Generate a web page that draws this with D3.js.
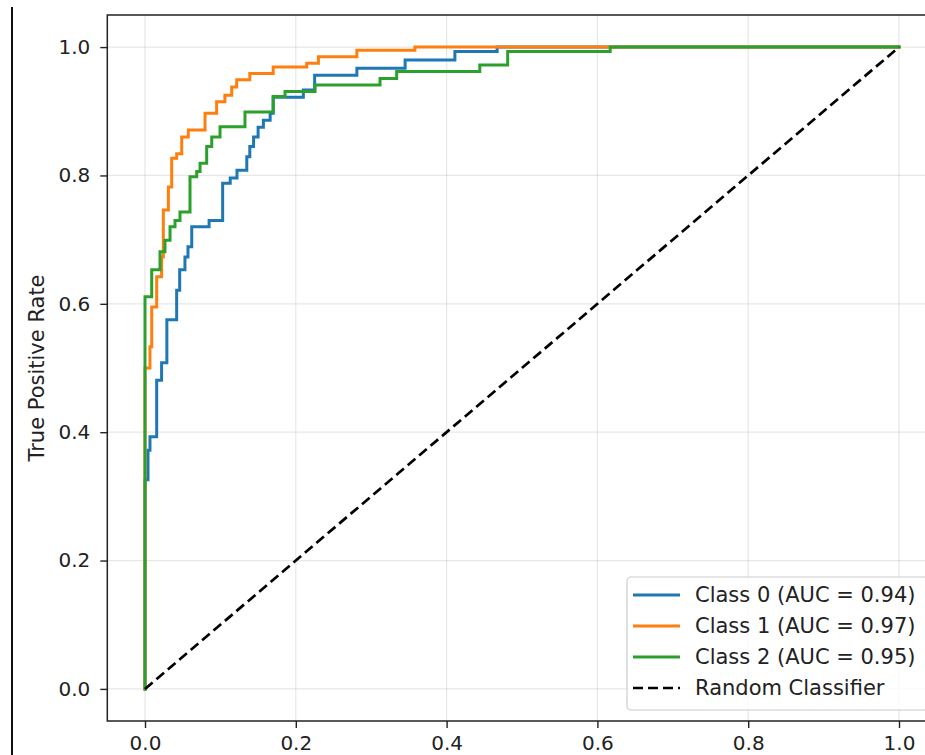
<!DOCTYPE html>
<html>
<head>
<meta charset="utf-8">
<script src="https://cdn.jsdelivr.net/npm/d3@7"></script>
<style>
  body { margin: 0; background: #fff; }
  svg { display: block; font-family: "DejaVu Sans", sans-serif; }
</style>
</head>
<body>
<script>
const w = 925;
const h = 755;

// ROC step points: at each fpr the curve jumps up to tpr
const class0Fpr = [0, 0, 0.004, 0.0066, 0.0155, 0.022, 0.029, 0.042, 0.046, 0.053, 0.057, 0.062, 0.085, 0.103, 0.113, 0.122, 0.135, 0.139, 0.144, 0.15, 0.157, 0.166, 0.17, 0.21, 0.225, 0.281, 0.345, 0.411, 0.467, 1];
const class0Tpr = [0, 0.326, 0.372, 0.393, 0.481, 0.508, 0.575, 0.621, 0.653, 0.673, 0.689, 0.72, 0.73, 0.788, 0.796, 0.808, 0.829, 0.845, 0.86, 0.875, 0.886, 0.897, 0.922, 0.933, 0.956, 0.967, 0.98, 0.993, 1, 1];

const class1Fpr = [0, 0, 0.0066, 0.0089, 0.0155, 0.022, 0.0243, 0.031, 0.0354, 0.042, 0.0487, 0.0574, 0.0796, 0.095, 0.106, 0.115, 0.1216, 0.139, 0.17, 0.2145, 0.23, 0.281, 0.358, 1];
const class1Tpr = [0, 0.5, 0.533, 0.595, 0.642, 0.673, 0.746, 0.782, 0.827, 0.834, 0.86, 0.871, 0.897, 0.915, 0.925, 0.938, 0.949, 0.959, 0.969, 0.975, 0.985, 0.995, 1, 1];

const class2Fpr = [0, 0, 0.0089, 0.0199, 0.0265, 0.0332, 0.0398, 0.0464, 0.0597, 0.0686, 0.073, 0.0818, 0.0885, 0.0995, 0.1326, 0.17, 0.1857, 0.2255, 0.3117, 0.3338, 0.444, 0.481, 0.617, 1];
const class2Tpr = [0, 0.611, 0.653, 0.681, 0.699, 0.72, 0.73, 0.743, 0.798, 0.806, 0.819, 0.845, 0.86, 0.876, 0.899, 0.923, 0.931, 0.941, 0.951, 0.962, 0.972, 0.993, 1, 1];

const diagonal = [0, 1];
const tickValues = [0, 0.2, 0.4, 0.6, 0.8, 1.0];
const legendLabels = ["Class 0 (AUC = 0.94)", "Class 1 (AUC = 0.97)", "Class 2 (AUC = 0.95)", "Random Classifier"];
const colors = ["#1f77b4", "#ff7f0e", "#2ca02c", "#000000"];

const svg = d3.select("body").append("svg").attr("width", w).attr("height", h);

// stray border line on the far left of the screenshot
svg.append("line")
	.attr("x1", 12).attr("x2", 12)
	.attr("y1", 7).attr("y2", h)
	.attr("stroke", "#111").attr("stroke-width", 2);

// * SCALES
const xScale = d3.scaleLinear().domain([-0.05, 1.05]).range([107.3, 936.7]);
const yScale = d3.scaleLinear().domain([-0.05, 1.05]).range([721, 15]);

// * GRID
const grid = svg.append("g");
grid.selectAll(".vgrid").data(tickValues).enter().append("line")
	.attr("x1", (d) => xScale(d)).attr("x2", (d) => xScale(d))
	.attr("y1", yScale(-0.05)).attr("y2", yScale(1.05))
	.attr("stroke", "#b0b0b0").attr("stroke-opacity", 0.3).attr("stroke-width", 1.2);
grid.selectAll(".hgrid").data(tickValues).enter().append("line")
	.attr("y1", (d) => yScale(d)).attr("y2", (d) => yScale(d))
	.attr("x1", xScale(-0.05)).attr("x2", xScale(1.05))
	.attr("stroke", "#b0b0b0").attr("stroke-opacity", 0.3).attr("stroke-width", 1.2);

// * CURVES
const line = d3.line()
	.x((d) => xScale(d[0]))
	.y((d) => yScale(d[1]))
	.curve(d3.curveStepAfter);

const series = [
	d3.zip(class0Fpr, class0Tpr),
	d3.zip(class1Fpr, class1Tpr),
	d3.zip(class2Fpr, class2Tpr),
];

series.forEach((pts, i) => {
	svg.append("path")
		.datum(pts)
		.attr("d", line)
		.attr("fill", "none")
		.attr("stroke", colors[i])
		.attr("stroke-width", 3)
		.attr("stroke-linejoin", "miter")
		.attr("stroke-linecap", "square");
});

svg.append("path")
	.datum(d3.zip(diagonal, diagonal))
	.attr("d", d3.line().x((d) => xScale(d[0])).y((d) => yScale(d[1])))
	.attr("fill", "none")
	.attr("stroke", "#000")
	.attr("stroke-width", 2.7)
	.attr("stroke-dasharray", "10,5");

// * FRAME
svg.append("rect")
	.attr("x", xScale(-0.05)).attr("y", yScale(1.05))
	.attr("width", xScale(1.05) - xScale(-0.05))
	.attr("height", yScale(-0.05) - yScale(1.05))
	.attr("fill", "none")
	.attr("stroke", "#222")
	.attr("stroke-width", 1.5);

// * AXES
const xAxis = d3.axisBottom(xScale).tickValues(tickValues).tickSize(7).tickPadding(8).tickFormat(d3.format(".1f"));
const gx = svg.append("g").attr("transform", "translate(0," + yScale(-0.05) + ")").call(xAxis);
const yAxis = d3.axisLeft(yScale).tickValues(tickValues).tickSize(7).tickPadding(10).tickFormat(d3.format(".1f"));
const gy = svg.append("g").attr("transform", "translate(" + xScale(-0.05) + ",0)").call(yAxis);

[gx, gy].forEach((g) => {
	g.select(".domain").remove();
	g.selectAll(".tick line").attr("stroke", "#222").attr("stroke-width", 1.4);
	g.selectAll(".tick text")
		.attr("fill", "#222")
		.style("font-size", "20px")
		.style("font-family", "DejaVu Sans");
});

svg.append("text")
	.attr("transform", "translate(44," + yScale(0.5) + ") rotate(-90)")
	.attr("text-anchor", "middle")
	.attr("fill", "#222")
	.style("font-size", "21px")
	.text("True Positive Rate");

// * LEGEND
const legend = svg.append("g");
legend.append("rect")
	.attr("x", 627).attr("y", 577)
	.attr("width", 301).attr("height", 133)
	.attr("rx", 4)
	.attr("fill", "#fff").attr("fill-opacity", 0.8)
	.attr("stroke", "#cccccc").attr("stroke-width", 1.2);

const legendY = d3.scaleLinear().domain([0, 3]).range([595, 688]);
legendLabels.forEach((label, i) => {
	legend.append("line")
		.attr("x1", 633).attr("x2", 680)
		.attr("y1", legendY(i)).attr("y2", legendY(i))
		.attr("stroke", colors[i])
		.attr("stroke-width", i === 3 ? 2.7 : 3)
		.attr("stroke-dasharray", i === 3 ? "10,5" : null);
	legend.append("text")
		.attr("x", 695).attr("y", legendY(i))
		.attr("dy", "0.35em")
		.attr("fill", "#222")
		.style("font-size", "21px")
		.text(label);
});
</script>
</body>
</html>
